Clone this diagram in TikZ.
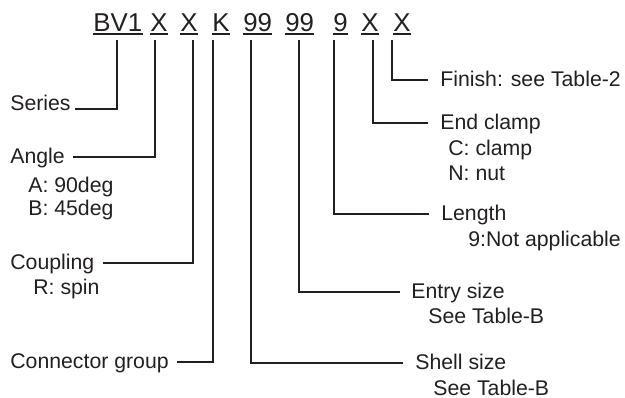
\documentclass[tikz,border=0pt]{standalone}
\usepackage{fontspec}
\setmainfont{Liberation Sans}
\definecolor{ink}{HTML}{231F20}
\begin{document}
\begin{tikzpicture}[x=0.02cm,y=-0.02cm,
  lab/.style={anchor=west,inner sep=0pt,text=ink,font=\fontsize{12.1}{14}\selectfont,text height=0.72em,text depth=0pt},
  sublab/.style={anchor=base west,inner sep=0pt,text=ink,font=\fontsize{12.1}{14}\selectfont},
  code/.style={anchor=base west,inner sep=0pt,text=ink,font=\fontsize{14.7}{17}\selectfont},
  uline/.style={draw=ink,line width=1.1pt},
  conn/.style={draw=ink,line width=0.75pt}]
\useasboundingbox (0,0) rectangle (625,397);

% code header
\node[code] (cBV) at (93,31) {BV1};
\node[code] (cA)  at (150,31) {X};
\node[code] (cC)  at (180,31) {X};
\node[code] (cK)  at (212,31) {K};
\node[code] (cS)  at (243,31) {99};
\node[code] (cE)  at (285,31) {99};
\node[code] (cL)  at (333,31) {9};
\node[code] (cN)  at (361,31) {X};
\node[code] (cF)  at (393,31) {X};
\foreach \n in {cBV,cA,cC,cK,cS,cE,cL,cN,cF}
  \draw[uline] ([yshift=-1.6pt]\n.base west) -- ([yshift=-1.6pt]\n.base east);

% top ends of connectors
\coordinate (tBV) at (117,40);
\coordinate (tA)  at (155,40);
\coordinate (tC)  at (193,40);
\coordinate (tK)  at (213,40);
\coordinate (tS)  at (251,40);
\coordinate (tE)  at (299,40);
\coordinate (tL)  at (334,40);
\coordinate (tN)  at (373,40);
\coordinate (tF)  at (392,40);

% left labels
\node[lab] (lSer) at (10,104) {Series};
\node[lab] (lAng) at (10,157) {Angle};
\node[sublab] (lAng1) at (28,192) {A: 90deg};
\node[sublab] (lAng2) at (28,215) {B: 45deg};
\node[lab] (lCou) at (10,263) {Coupling};
\node[sublab] (lCou1) at (33,294.6) {R: spin};
\node[lab] (lCon) at (10,362) {Connector group};

% right labels
\node[lab] (lFin) at (440,80) {Finish: see Table-2};
\node[lab] (lEnd) at (440,123) {End clamp};
\node[sublab] (lEnd1) at (448,155.6) {C: clamp};
\node[sublab] (lEnd2) at (448,180.6) {N: nut};
\node[lab] (lLen) at (441,214) {Length};
\node[sublab] (lLen1) at (468,246.5) {9:Not applicable};
\node[lab] (lEnt) at (411,292) {Entry size};
\node[sublab] (lEnt1) at (428,323.5) {See Table-B};
\node[lab] (lShe) at (415,363) {Shell size};
\node[sublab] (lShe1) at (433,395) {See Table-B};

% connectors
\draw[conn] ([xshift=2.3pt,yshift=-2.8pt]lSer.east) -| (tBV);
\draw[conn] ([xshift=4.5pt]lAng.east) -| (tA);
\draw[conn] ([xshift=4.5pt]lCou.east) -| (tC);
\draw[conn] ([xshift=4.5pt]lCon.east) -| (tK);
\draw[conn] ([xshift=-6.8pt]lFin.west) -| (tF);
\draw[conn] ([xshift=-6.8pt]lEnd.west) -| (tN);
\draw[conn] ([xshift=-6.8pt]lLen.west) -| (tL);
\draw[conn] ([xshift=-6.2pt]lEnt.west) -| (tE);
\draw[conn] ([xshift=-6.8pt]lShe.west) -| (tS);
\end{tikzpicture}
\end{document}
